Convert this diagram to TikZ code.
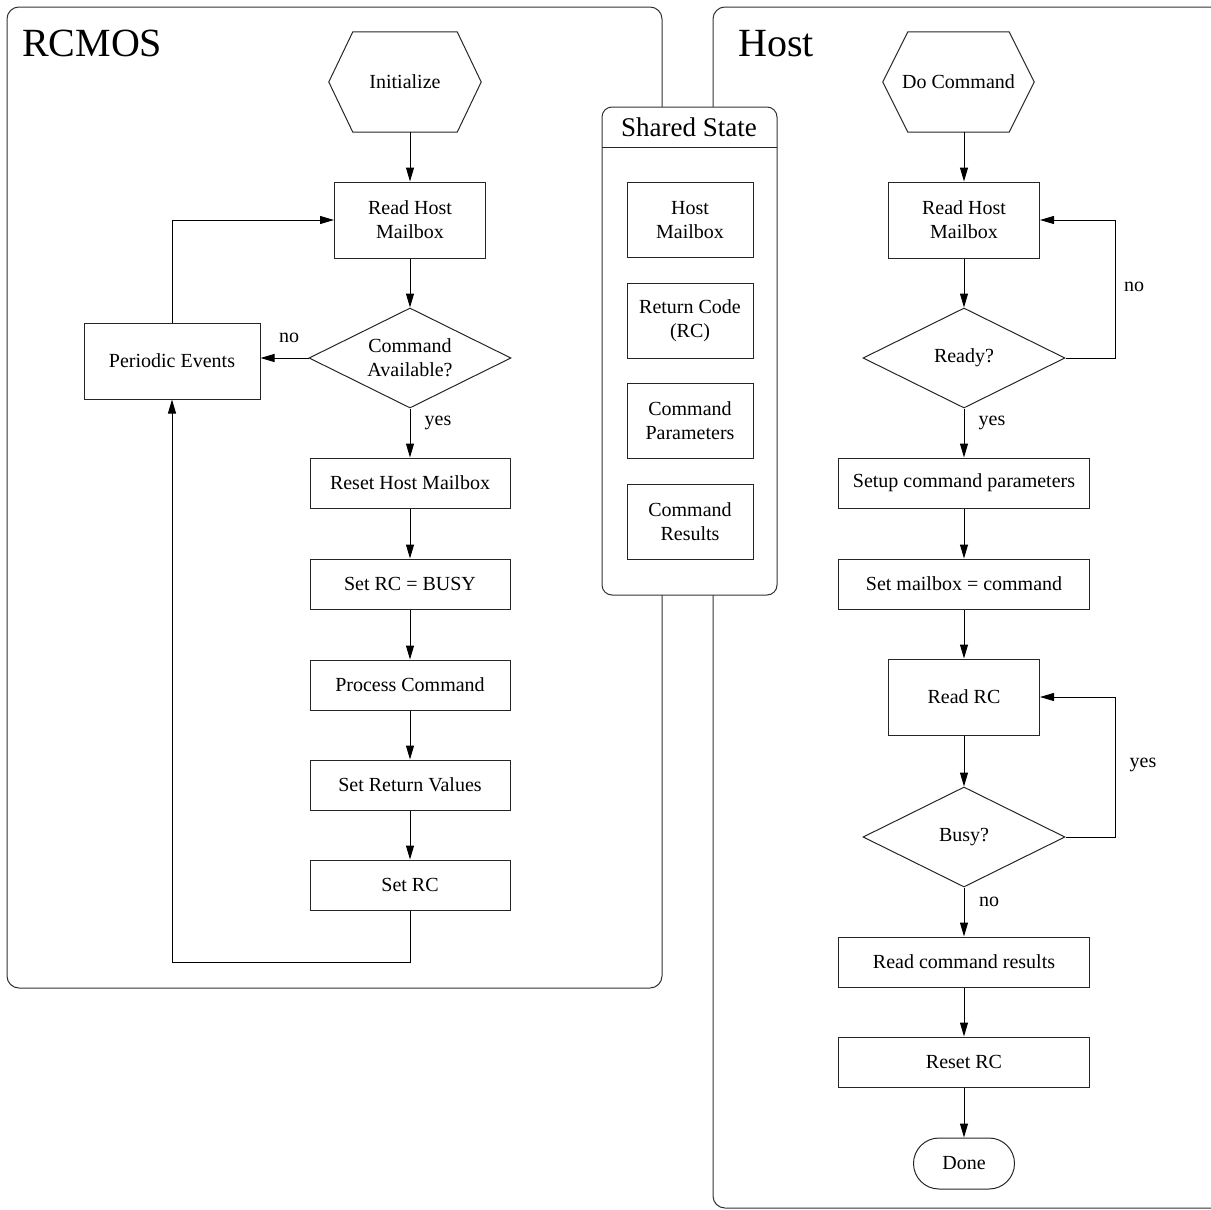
\documentclass[tikz,border=0pt]{standalone}
\usepackage{fontspec}
\setmainfont{Liberation Serif}
\usetikzlibrary{arrows.meta,shapes.geometric,shapes.misc,calc}

\tikzset{
  every node/.style={font=\fontsize{20}{24}\selectfont},
  panel/.style={draw=black!80, line width=1pt, rounded corners=12pt},
  stepbox/.style={draw=black!85, line width=1pt, rectangle, align=center,
                  inner sep=0pt, minimum width=200pt, minimum height=50pt},
  tallbox/.style={stepbox, minimum width=151pt, minimum height=76pt},
  widebox/.style={stepbox, minimum width=251pt},
  statebox/.style={stepbox, minimum width=126pt, minimum height=75pt},
  decision/.style={draw=black!85, line width=1pt, diamond, aspect=2, align=center,
                   inner sep=0pt, minimum width=202pt, minimum height=100pt},
  hexframe/.style={draw=none, rectangle, inner sep=0pt},
  endcap/.style={draw=black!85, line width=1pt, rounded rectangle,
                 inner sep=0pt, minimum width=101pt, minimum height=51pt},
  lbl/.style={inner sep=0pt},
  title/.style={inner sep=0pt, anchor=base west, font=\fontsize{40}{48}\selectfont},
  arr/.style={draw=black, line width=1pt, -{Triangle[length=14pt,width=8pt]}},
  hexline/.style={draw=black!85, line width=1pt},
}

\begin{document}
\begin{tikzpicture}[x=1pt, y=-1pt]
\useasboundingbox (0,0) rectangle (1211,1210);
\clip (0,0) rectangle (1211,1210);

% ---- swimlane panels ----
\draw[panel] (7,7) rectangle (662,988);
\draw[panel] (713,7) rectangle (1240,1208);
\node[title] (tR) at (22,56) {RCMOS};
\node[title] (tH) at (738,56) {Host};

% ---- shared state column ----
\draw[panel, rounded corners=10pt, fill=white] (602,107) rectangle (777,595);
\draw[draw=black!85, line width=1pt] (602,147) -- (777,147);
\node[inner sep=0pt, font=\fontsize{27}{32}\selectfont] (tS) at (689,127) {Shared State};
\node[statebox] (sMb) at (690,220)   {Host\\Mailbox};
\node[statebox] (sRc) at (690,320.5) {Return Code\\(RC)};
\node[statebox] (sCp) at (690,421)   {Command\\Parameters};
\node[statebox] (sCr) at (690,521.5) {Command\\Results};

% ---- RCMOS flow ----
\node[hexframe, minimum width=152pt, minimum height=100pt] (init) at (405,82) {Initialize};
\draw[hexline] (init.west) -- ($(init.north west)+(24,0)$) -- ($(init.north east)+(-24,0)$)
  -- (init.east) -- ($(init.south east)+(-24,0)$) -- ($(init.south west)+(24,0)$) -- cycle;

\node[tallbox] (rdL) at (410,220) {Read Host\\Mailbox};
\node[decision] (ca) at (410,358) {Command\\Available?};
\node[stepbox, minimum width=176pt, minimum height=76pt] (pe) at (172,361) {Periodic Events};
\node[stepbox] (rst) at (410,483) {Reset Host Mailbox};
\node[stepbox] (busy) at (410,584) {Set RC = BUSY};
\node[stepbox] (proc) at (410,685) {Process Command};
\node[stepbox] (ret) at (410,785) {Set Return Values};
\node[stepbox] (src) at (410,885) {Set RC};
\coordinate (lb) at (410,962);

\draw[arr] (rdL.north |- init.south) -- (rdL.north);
\draw[arr] (rdL.south) -- (ca.north);
\draw[arr] (ca.west) -- (ca.west -| pe.east);
\node[lbl] (lno1) at (289,338) {no};
\draw[arr] (ca.south) -- (rst.north);
\node[lbl] (lyes1) at (438,423) {yes};
\draw[arr] (rst.south) -- (busy.north);
\draw[arr] (busy.south) -- (proc.north);
\draw[arr] (proc.south) -- (ret.north);
\draw[arr] (ret.south) -- (src.north);
\draw[arr] (src.south) -- (lb) -| (pe.south);
\draw[arr] (pe.north) |- (rdL.west);

% ---- Host flow ----
\node[hexframe, minimum width=151pt, minimum height=100pt] (doc) at (958.5,82) {Do Command};
\draw[hexline] (doc.west) -- ($(doc.north west)+(25,0)$) -- ($(doc.north east)+(-25,0)$)
  -- (doc.east) -- ($(doc.south east)+(-25,0)$) -- ($(doc.south west)+(25,0)$) -- cycle;

\node[tallbox] (rdH) at (964,220) {Read Host\\Mailbox};
\node[decision] (rdy) at (964,358) {Ready?};
\node[widebox] (setup) at (964,483) {Setup command parameters};
\node[widebox] (setmb) at (964,584) {Set mailbox = command};
\node[tallbox] (rrc) at (964,697) {Read RC};
\node[decision] (bsy) at (964,837) {Busy?};
\node[widebox] (rres) at (964,962) {Read command results};
\node[widebox] (rsrc) at (964,1062) {Reset RC};
\node[endcap] (done) at (964,1163.5) {Done};
\coordinate (loopx) at (1115,0);

\draw[arr] (rdH.north |- doc.south) -- (rdH.north);
\draw[arr] (rdH.south) -- (rdy.north);
\draw[arr] (rdy.east) -- (rdy.east -| loopx) |- (rdH.east);
\node[lbl] (lno2) at (1134,287) {no};
\draw[arr] (rdy.south) -- (setup.north);
\node[lbl] (lyes2) at (992,423) {yes};
\draw[arr] (setup.south) -- (setmb.north);
\draw[arr] (setmb.south) -- (rrc.north);
\draw[arr] (rrc.south) -- (bsy.north);
\draw[arr] (bsy.east) -- (bsy.east -| loopx) |- (rrc.east);
\node[lbl] (lyes3) at (1143,765) {yes};
\draw[arr] (bsy.south) -- (rres.north);
\node[lbl] (lno3) at (989,902) {no};
\draw[arr] (rres.south) -- (rsrc.north);
\draw[arr] (rsrc.south) -- (done.north);
\end{tikzpicture}
\end{document}
